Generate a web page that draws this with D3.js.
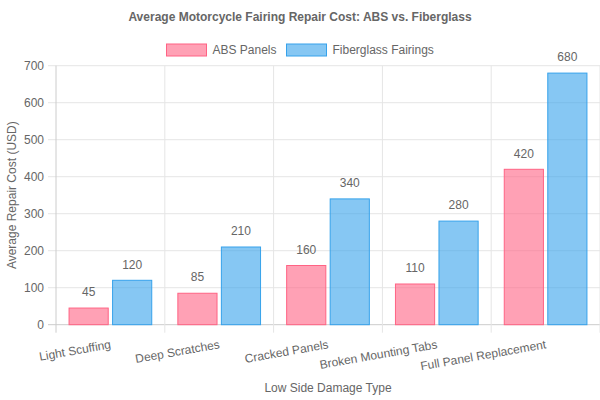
<!DOCTYPE html>
<html><head><meta charset="utf-8">
<script src="https://cdn.jsdelivr.net/npm/d3@7"></script>
<style>body{margin:0;background:#fff}svg{display:block;font-family:"Liberation Sans",Arial,sans-serif}</style>
</head><body><svg id="c" width="600" height="400"></svg>
<script>
const categories = ["Light Scuffing","Deep Scratches","Cracked Panels","Broken Mounting Tabs","Full Panel Replacement"];
const absValues = [45, 85, 160, 110, 420];
const fiberValues = [120, 210, 340, 280, 680];
const seriesNames = ["ABS Panels","Fiberglass Fairings"];
const yTicks = [0,100,200,300,400,500,600,700];

const svg = d3.select("#c");
const m = {l:56, r:600, t:65.7, b:324.7};
const x = d3.scaleBand().domain(categories).range([m.l, m.r]).paddingInner(0).paddingOuter(0);
const y = d3.scaleLinear().domain([0,700]).range([m.b, m.t]);
const inner = d3.scaleBand().domain([0,1]).range([0, x.bandwidth()*0.8]);
const fills = ["rgba(255,99,132,0.6)","rgba(54,162,235,0.6)"];
const strokes = ["rgb(255,99,132)","rgb(54,162,235)"];
const txt = "#666";
const fs = 12;

// grid
svg.append("g").selectAll("line").data(yTicks).join("line")
  .attr("x1", m.l-8).attr("x2", m.r).attr("y1", d=>y(d)).attr("y2", d=>y(d))
  .attr("stroke", d=> d===0 ? "#ccc" : "#e5e5e5").attr("stroke-width",1);
const vlines = categories.map(c=>x(c)).concat([m.r]);
svg.append("g").selectAll("line").data(vlines).join("line")
  .attr("x1", d=>d).attr("x2", d=>d).attr("y1", m.t).attr("y2", m.b+8)
  .attr("stroke", (d,i)=> i===0 ? "#ccc" : "#e5e5e5").attr("stroke-width",1);

// y tick labels
svg.append("g").selectAll("text").data(yTicks).join("text")
  .attr("x", m.l-12).attr("y", d=>y(d)).attr("dy","0.35em")
  .attr("text-anchor","end").attr("fill",txt).attr("font-size",fs).text(d=>d);

// bars
const series = [absValues, fiberValues];
series.forEach((vals, si) => {
  const g = svg.append("g");
  g.selectAll("rect").data(vals).join("rect")
    .attr("x", (d,i)=> x(categories[i]) + x.bandwidth()*0.1 + inner(si) + inner.bandwidth()*0.05)
    .attr("width", inner.bandwidth()*0.9)
    .attr("y", d=>y(d)).attr("height", d=> y(0)-y(d))
    .attr("fill", fills[si]).attr("stroke", strokes[si]).attr("stroke-width",1);
  g.selectAll("text").data(vals).join("text")
    .attr("x", (d,i)=> x(categories[i]) + x.bandwidth()*0.1 + inner(si) + inner.bandwidth()/2)
    .attr("y", d=> y(d)-16).attr("dy","0.35em")
    .attr("text-anchor","middle").attr("fill",txt).attr("font-size",fs).text(d=>d);
});

// x labels
svg.append("g").selectAll("text").data(categories).join("text")
  .attr("transform", d=>`translate(${x(d)+x.bandwidth()/2+1},${m.b+23.5}) rotate(-10)`)
  .attr("text-anchor","end").attr("fill",txt).attr("font-size",fs).text(d=>d);

// axis titles
svg.append("text").attr("x", (m.l+m.r)/2).attr("y", 392)
  .attr("text-anchor","middle").attr("fill",txt).attr("font-size",fs).text("Low Side Damage Type");
svg.append("text").attr("transform", `translate(16,${(m.t+m.b)/2}) rotate(-90)`)
  .attr("text-anchor","middle").attr("fill",txt).attr("font-size",fs).text("Average Repair Cost (USD)");

// title
svg.append("text").attr("x", 300).attr("y", 21).attr("text-anchor","middle")
  .attr("fill",txt).attr("font-size",12).attr("font-weight","bold")
  .text("Average Motorcycle Fairing Repair Cost: ABS vs. Fiberglass");

// legend
const leg = svg.append("g");
const legX = [166.5, 286.5];
seriesNames.forEach((n,i)=>{
  leg.append("rect").attr("x", legX[i]).attr("y", 44).attr("width",40).attr("height",12)
    .attr("fill", fills[i]).attr("stroke", strokes[i]).attr("stroke-width",1);
  leg.append("text").attr("x", legX[i]+46).attr("y", 50).attr("dy","0.35em")
    .attr("fill",txt).attr("font-size",fs).text(n);
});
</script></body></html>
